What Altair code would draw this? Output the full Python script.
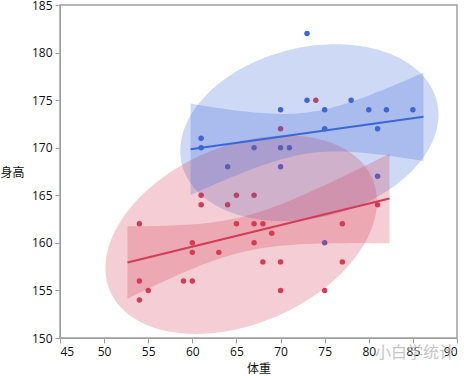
import altair as alt
import numpy as np
import pandas as pd

# ---- data ----
groups = ["男", "女"]
blue_w = [61, 61, 64, 67, 70, 70, 70, 71, 73, 73, 75, 75, 75, 78, 80, 81, 81, 82, 85]
blue_h = [171, 170, 168, 170, 174, 170, 168, 170, 182, 175, 174, 172, 160, 175, 174, 172, 167, 174, 174]
red_w = [54, 54, 54, 55, 59, 60, 60, 60, 61, 61, 63, 64, 65, 65, 67, 67, 67, 68, 68, 69,
         70, 70, 70, 74, 75, 77, 77, 81]
red_h = [162, 156, 154, 155, 156, 160, 159, 156, 165, 164, 159, 164, 165, 162, 165, 162, 160,
         162, 158, 161, 172, 158, 155, 175, 155, 162, 158, 164]
colors = ["#3b67d6", "#d43b55"]
x_ticks = [45, 50, 55, 60, 65, 70, 75, 80, 85, 90]
y_ticks = [150, 155, 160, 165, 170, 175, 180, 185]
t_crit = [2.110, 2.056]      # 95% t quantiles for n-2 df
ellipse_c = 2.1              # density ellipse radius (approx. 90%)
line_ext = 0.05              # fit line extends 5% beyond data range

series = [(groups[0], blue_w, blue_h, t_crit[0]), (groups[1], red_w, red_h, t_crit[1])]

pts, ell, band, fit = [], [], [], []
for g, w, h, tc in series:
    x = np.array(w, float)
    y = np.array(h, float)
    n = len(x)
    for a, b in zip(w, h):
        pts.append({"g": g, "w": a, "h": b})
    # regression + mean confidence band
    mx, my = x.mean(), y.mean()
    sxx = ((x - mx) ** 2).sum()
    slope = ((x - mx) * (y - my)).sum() / sxx
    icpt = my - slope * mx
    s = np.sqrt(((y - (icpt + slope * x)) ** 2).sum() / (n - 2))
    rng = x.max() - x.min()
    lo, hi = x.min() - line_ext * rng, x.max() + line_ext * rng
    for xv in np.linspace(lo, hi, 60):
        yh = icpt + slope * xv
        hw = tc * s * np.sqrt(1 / n + (xv - mx) ** 2 / sxx)
        band.append({"g": g, "w": xv, "lo": yh - hw, "hi": yh + hw})
    for xv in (lo, hi):
        fit.append({"g": g, "w": xv, "h": icpt + slope * xv})
    # density ellipse
    S = np.cov(x, y)
    Si = np.linalg.inv(S)
    A, B, D = Si[0, 0], Si[0, 1], Si[1, 1]
    dxm = ellipse_c * np.sqrt(S[0, 0])
    for th in np.linspace(np.pi, 0, 160):
        dx = dxm * np.cos(th)
        disc = max(B * B * dx * dx - D * (A * dx * dx - ellipse_c ** 2), 0.0)
        r = np.sqrt(disc)
        y1 = (-B * dx - r) / D
        y2 = (-B * dx + r) / D
        ell.append({"g": g, "w": mx + dx, "lo": my + y1, "hi": my + y2})

pts_df = pd.DataFrame(pts)
ell_df = pd.DataFrame(ell)
band_df = pd.DataFrame(band)
fit_df = pd.DataFrame(fit)

color = alt.Color("g:N", scale=alt.Scale(domain=groups, range=colors), legend=None)
xs = alt.Scale(domain=[45, 90], nice=False, zero=False)
ys = alt.Scale(domain=[150, 185], nice=False, zero=False)

xenc = alt.X("w:Q", scale=xs, title="体重",
             axis=alt.Axis(values=x_ticks, grid=False, titleY=30, titleBaseline="middle"))
yenc = alt.Y("h:Q", scale=ys, title="身高",
             axis=alt.Axis(values=y_ticks, grid=False, titleAngle=0, titleX=-60, titleY=167,
                           titleAlign="left", titleBaseline="middle"))

points = alt.Chart(pts_df).mark_circle(size=30, opacity=1).encode(x=xenc, y=yenc, color=color)

ellipses = alt.Chart(ell_df).mark_area(opacity=0.25).encode(
    x=alt.X("w:Q", scale=xs), y=alt.Y("lo:Q", scale=ys), y2="hi:Q", color=color,
    detail="g:N")

bands = alt.Chart(band_df).mark_area(opacity=0.25).encode(
    x=alt.X("w:Q", scale=xs), y=alt.Y("lo:Q", scale=ys), y2="hi:Q", color=color,
    detail="g:N")

lines = alt.Chart(fit_df).mark_line(strokeWidth=2).encode(
    x=alt.X("w:Q", scale=xs), y=alt.Y("h:Q", scale=ys), color=color, detail="g:N")

watermark = alt.Chart(pd.DataFrame({"t": ["小白学统计"]})).mark_text(
    align="left", baseline="middle", fontSize=16, color="#b8b8b8", opacity=0.8,
    font="Noto Sans CJK SC").encode(x=alt.value(315), y=alt.value(348), text="t:N")

chart = alt.layer(points, ellipses, bands, lines, watermark).properties(
    width=397, height=333,
    autosize=alt.AutoSizeParams(type="none"),
    padding={"left": 60, "top": 5, "right": 7, "bottom": 38},
    background="white",
).configure_view(stroke="#a0a0a0", strokeWidth=1.5).configure_axis(
    domainColor="#a0a0a0", tickColor="#a0a0a0", tickSize=5, labelPadding=3,
    labelFont="Open Sans", labelFontSize=12, labelColor="#111",
    titleFont="Noto Sans CJK SC", titleFontSize=12, titleFontWeight="normal", titleColor="#111",
)

chart.save("out.html", embed_options={"renderer": "svg", "actions": False})
